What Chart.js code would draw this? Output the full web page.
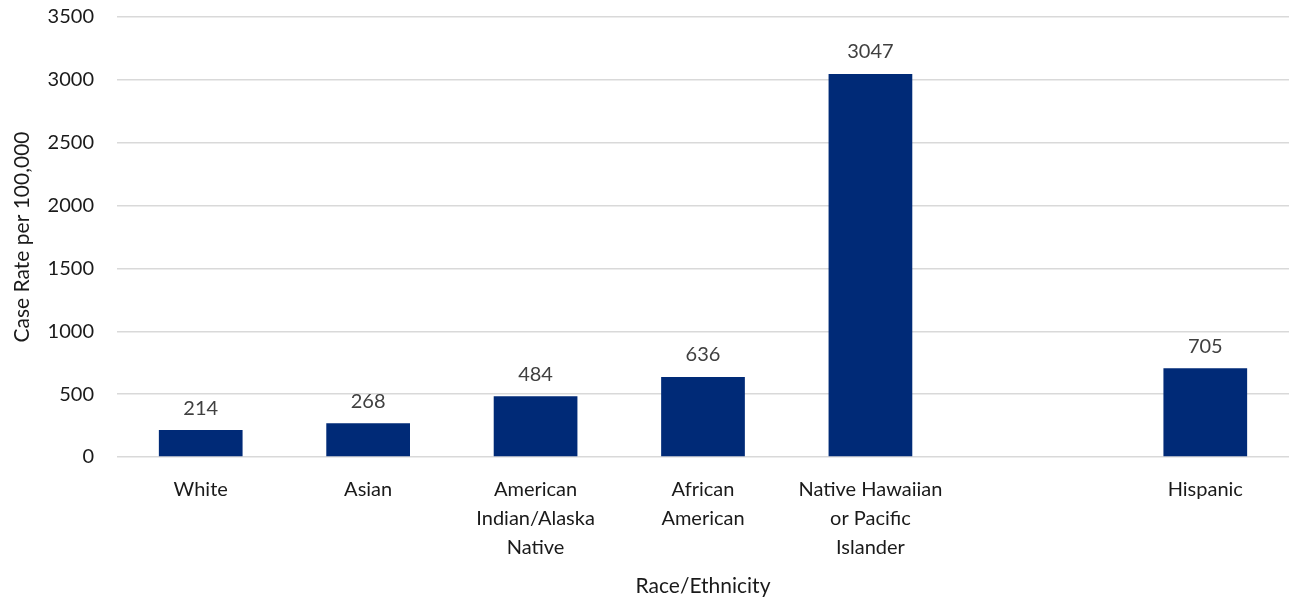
<!DOCTYPE html>
<html>
<head>
<meta charset="utf-8">
<script src="https://cdn.jsdelivr.net/npm/chart.js@4/dist/chart.umd.min.js"></script>
<style>
  html, body { margin: 0; padding: 0; background: #fff; }
  #wrap { width: 1289px; height: 601px; }
</style>
</head>
<body>
<div id="wrap"><canvas id="rateChart"></canvas></div>
<script>
const categories = [
  "White",
  "Asian",
  ["American", "Indian/Alaska", "Native"],
  ["African", "American"],
  ["Native Hawaiian", "or Pacific", "Islander"],
  "",
  "Hispanic",
];
const caseRates = [214, 268, 484, 636, 3047, null, 705];
const yTicks = [0, 500, 1000, 1500, 2000, 2500, 3000, 3500];

const fontFamily = "Lato, 'Open Sans', sans-serif";

// draws the value above each bar
const barValues = {
  id: "barValues",
  afterDatasetsDraw(chart) {
    const ctx = chart.ctx;
    const meta = chart.getDatasetMeta(0);
    ctx.save();
    ctx.font = "20px " + fontFamily;
    ctx.fillStyle = "#404040";
    ctx.textAlign = "center";
    ctx.textBaseline = "bottom";
    meta.data.forEach((bar, i) => {
      const v = caseRates[i];
      if (v == null) return;
      ctx.fillText(String(v), bar.x, bar.y - 12);
    });
    ctx.restore();
  },
};

function initRateChart() {
  const canvas = document.getElementById("rateChart");
  if (!canvas) return;
  const ctx = canvas.getContext("2d");
  new Chart(ctx, {
    type: "bar",
    data: {
      labels: categories,
      datasets: [
        {
          label: "Case Rate per 100,000",
          data: caseRates,
          backgroundColor: "#002A77",
          categoryPercentage: 1,
          barPercentage: 0.5,
        },
      ],
    },
    options: {
      responsive: true,
      maintainAspectRatio: false,
      animation: false,
      layout: { padding: 0 },
      plugins: { legend: { display: false }, tooltip: { enabled: false } },
      scales: {
        x: {
          grid: { display: false },
          border: { display: false },
          ticks: {
            color: "#1a1a1a",
            font: { size: 20, family: fontFamily, lineHeight: 1.45 },
            padding: 10,
            maxRotation: 0,
            autoSkip: false,
          },
          title: {
            display: true,
            text: "Race/Ethnicity",
            color: "#1a1a1a",
            font: { size: 21, family: fontFamily },
            padding: { top: 8, bottom: 2 },
          },
          afterFit(scale) { scale.height = 144; },
        },
        y: {
          min: 0,
          max: 3500,
          afterBuildTicks(scale) { scale.ticks = yTicks.map(v => ({ value: v })); },
          grid: {
            color: "#d9d9d9",
            lineWidth: 1.5,
            drawTicks: true,
            tickLength: 18,
            tickColor: "rgba(0,0,0,0)",
          },
          border: { display: false },
          ticks: {
            color: "#1a1a1a",
            font: { size: 20, family: fontFamily },
            padding: 5,
            callback: v => String(v),
          },
          title: {
            display: true,
            text: "Case Rate per 100,000",
            color: "#1a1a1a",
            font: { size: 21, family: fontFamily },
            padding: { top: 10, bottom: 4 },
          },
          afterFit(scale) { scale.width = 117; },
        },
      },
    },
    plugins: [barValues],
  });
}

initRateChart();
</script>
</body>
</html>
